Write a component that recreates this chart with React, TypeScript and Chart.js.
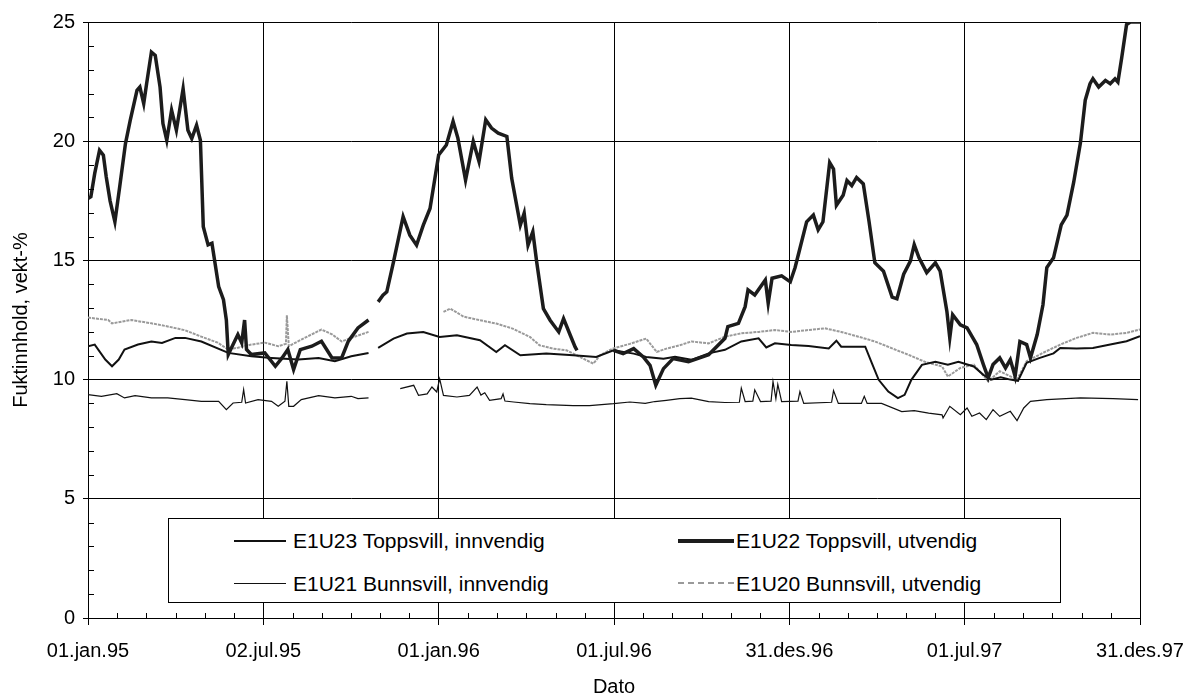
import React, { useEffect, useRef } from 'react';
import { Chart, registerables } from 'chart.js';

Chart.register(...registerables);

// ---- axis labels / ticks ----
const X_TICK_DAYS = [0, 182.5, 365, 547.5, 730, 912.5, 1095];
const X_TICK_LABELS = ['01.jan.95', '02.jul.95', '01.jan.96', '01.jul.96', '31.des.96', '01.jul.97', '31.des.97'];
const Y_MIN = 0;
const Y_MAX = 25;
const Y_STEP = 5;

// ---- series (x = days since 01.jan.95) ----
const E1U22_DAYS = [0, 3, 7, 12, 16, 19, 23, 28, 33, 39, 44, 51, 54, 58, 61, 66, 70, 75, 78, 82, 87, 92, 99, 104, 108, 113, 117, 120, 125, 129, 136, 141, 144, 146, 151, 156, 160, 163, 165, 170, 184, 195, 202, 208, 214, 221, 233, 243, 254, 264, 271, 281, 292, 297, 302, 307, 311, 318, 328, 335, 342, 349, 356, 365, 373, 380, 385, 393, 401, 407, 414, 420, 427, 436, 441, 450, 454, 458, 463, 467, 474, 481, 490, 495, 502, 507, 509, 528, 547, 557, 568, 578, 585, 591, 599, 609, 625, 646, 663, 666, 677, 684, 687, 694, 705, 708, 712, 722, 731, 736, 741, 748, 755, 760, 765, 772, 776, 779, 786, 790, 795, 800, 807, 813, 819, 828, 837, 842, 849, 856, 860, 865, 873, 882, 887, 894, 897, 900, 908, 915, 921, 925, 932, 937, 942, 949, 955, 960, 965, 970, 977, 981, 988, 994, 998, 1005, 1013, 1019, 1026, 1033, 1038, 1043, 1046, 1052, 1059, 1064, 1069, 1072, 1076, 1081, 1085, 1095];
const E1U22_VALUES = [17.6, 17.67, 18.65, 19.62, 19.41, 18.5, 17.5, 16.62, 18.09, 19.9, 20.88, 22.13, 22.27, 21.58, 22.41, 23.74, 23.6, 22.27, 20.74, 20.04, 21.3, 20.46, 22.2, 20.46, 20.11, 20.67, 20.04, 16.41, 15.65, 15.72, 13.9, 13.35, 12.5, 11.05, 11.47, 11.89, 11.54, 12.5, 11.26, 11.05, 11.12, 10.56, 10.91, 11.26, 10.42, 11.26, 11.4, 11.61, 10.91, 10.91, 11.61, 12.17, 12.5, null, 13.26, 13.54, 13.68, 14.94, 16.84, 16.06, 15.64, 16.48, 17.18, 19.42, 19.84, 20.83, 20.13, 18.37, 19.99, 19.15, 20.9, 20.55, 20.34, 20.2, 18.45, 16.48, 16.98, 15.64, 16.2, 14.94, 12.98, 12.49, 12.0, 12.56, 11.86, 11.37, 11.23, null, 11.23, 11.09, 11.3, 10.95, 10.6, 9.76, 10.46, 10.88, 10.75, 11.04, 11.73, 12.22, 12.36, 13.06, 13.76, 13.55, 14.18, 13.2, 14.25, 14.35, 14.1, 14.7, 15.5, 16.62, 16.9, 16.28, 16.62, 19.1, 18.83, 17.31, 17.73, 18.35, 18.14, 18.48, 18.21, 16.62, 14.9, 14.55, 13.46, 13.39, 14.42, 14.97, 15.66, 15.11, 14.49, 14.9, 14.55, 12.86, 11.75, 12.72, 12.3, 12.17, 11.75, 11.47, 10.63, 10.07, 10.63, 10.91, 10.49, 10.84, 10.14, 11.6, 11.47, 10.91, 11.89, 13.14, 14.7, 15.11, 16.49, 16.9, 18.28, 19.93, 21.72, 22.41, 22.62, 22.27, 22.55, 22.41, 22.62, 22.48, 23.51, 24.89, 25.0, 25.0];

const E1U23_DAYS = [0, 7, 18, 25, 32, 38, 52, 66, 77, 91, 101, 118, 146, 170, 191, 219, 240, 257, 274, 292, 297, 302, 318, 332, 349, 366, 384, 408, 425, 434, 450, 477, 505, 529, 547, 568, 581, 599, 611, 628, 646, 663, 680, 698, 706, 715, 732, 750, 771, 779, 784, 809, 816, 823, 833, 843, 850, 857, 868, 882, 895, 906, 922, 932, 940, 950, 960, 968, 977, 990, 1005, 1012, 1029, 1046, 1064, 1081, 1095];
const E1U23_VALUES = [11.4, 11.47, 10.84, 10.56, 10.84, 11.26, 11.47, 11.6, 11.54, 11.75, 11.75, 11.6, 11.12, 10.98, 10.91, 10.84, 10.91, 10.77, 10.98, 11.12, null, 11.33, 11.72, 11.93, 12.0, 11.79, 11.86, 11.65, 11.16, 11.44, 11.02, 11.09, 11.02, 10.95, 11.23, 11.09, 10.95, 10.88, 10.96, 10.83, 11.1, 11.25, 11.6, 11.73, 11.35, 11.52, 11.45, 11.41, 11.31, 11.63, 11.38, 11.38, 10.68, 9.99, 9.5, 9.22, 9.36, 9.99, 10.62, 10.75, 10.62, 10.75, 10.55, 10.2, 10.0, 10.1, 10.0, 9.95, 10.7, 10.9, 11.1, 11.33, 11.3, 11.33, 11.47, 11.61, 11.82];

const E1U21_DAYS = [0, 14, 30, 38, 49, 66, 83, 101, 118, 136, 144, 151, 160, 162, 164, 177, 191, 198, 205, 207, 209, 214, 222, 240, 257, 274, 281, 292, 308, 325, 339, 344, 353, 358, 363, 366, 370, 384, 397, 405, 409, 413, 418, 430, 432, 434, 443, 460, 477, 505, 522, 547, 564, 580, 590, 602, 616, 628, 646, 663, 678, 680, 684, 692, 694, 700, 711, 713, 716, 718, 722, 739, 741, 745, 774, 776, 781, 805, 808, 811, 826, 847, 860, 875, 889, 890, 897, 908, 915, 920, 928, 935, 942, 949, 960, 967, 974, 981, 998, 1033, 1067, 1093];
const E1U21_VALUES = [9.37, 9.3, 9.41, 9.23, 9.33, 9.23, 9.23, 9.16, 9.09, 9.09, 8.74, 9.02, 9.05, 9.58, 9.02, 9.16, 9.09, 8.88, 9.09, 9.93, 8.88, 8.88, 9.16, 9.33, 9.23, 9.3, 9.2, 9.23, null, 9.62, 9.76, 9.34, 9.4, 9.69, 9.48, 10.04, 9.34, 9.27, 9.34, 9.69, 9.35, 9.45, 9.13, 9.2, 9.4, 9.1, 9.06, 8.99, 8.95, 8.91, 8.91, 8.99, 9.06, 9.0, 9.08, 9.13, 9.2, 9.22, 9.08, 9.04, 9.05, 9.64, 9.08, 9.1, 9.57, 9.08, 9.1, 9.92, 9.2, 9.8, 9.08, 9.1, 9.5, 9.0, 9.05, 9.54, 9.0, 9.0, 9.3, 9.0, 9.0, 8.66, 8.7, 8.59, 8.52, 8.39, 8.88, 8.53, 8.81, 8.46, 8.6, 8.32, 8.74, 8.46, 8.67, 8.28, 8.81, 9.09, 9.16, 9.23, 9.2, 9.16];

const E1U20_DAYS = [0, 21, 25, 45, 66, 83, 101, 118, 135, 146, 156, 170, 184, 198, 206, 207, 209, 222, 243, 254, 264, 274, 292, 330, 370, 377, 391, 408, 425, 442, 460, 470, 484, 498, 512, 526, 533, 546, 564, 581, 592, 602, 616, 628, 646, 663, 680, 698, 715, 732, 750, 767, 784, 802, 819, 837, 854, 871, 889, 895, 908, 922, 937, 949, 967, 977, 994, 1012, 1029, 1046, 1064, 1081, 1095];
const E1U20_VALUES = [12.6, 12.5, 12.36, 12.5, 12.36, 12.23, 12.07, 11.8, 11.55, 11.26, 11.34, 11.47, 11.55, 11.4, 11.5, 12.7, 11.4, 11.68, 12.1, 11.9, 11.6, 11.75, 12.0, null, 12.84, 12.98, 12.64, 12.49, 12.35, 12.14, 11.79, 11.44, 11.3, 11.23, 10.95, 10.67, 11.02, 11.3, 11.5, 11.72, 11.16, 11.3, 11.44, 11.6, 11.52, 11.8, 11.94, 12.0, 12.08, 12.0, 12.08, 12.15, 12.0, 11.8, 11.6, 11.31, 11.04, 10.75, 10.55, 10.13, 10.49, 10.63, 9.93, 10.35, 10.0, 10.77, 11.12, 11.47, 11.75, 11.96, 11.89, 11.96, 12.1];

const SERIES_LABELS = [
  'E1U23 Toppsvill, innvendig',
  'E1U22 Toppsvill, utvendig',
  'E1U21 Bunnsvill, innvendig',
  'E1U20 Bunnsvill, utvendig',
];

const FONT = "'Liberation Sans', Arial, Helvetica, sans-serif";

function toPoints(days: number[], vals: (number | null)[]) {
  return days.map((d, i) => ({ x: d, y: vals[i] }));
}

const minorTicks = {
  id: 'minorTicks',
  afterDraw(chart: any) {
    const { ctx, chartArea, scales } = chart;
    const x = scales.x;
    const y = scales.y;
    ctx.save();
    ctx.strokeStyle = '#000';
    ctx.lineWidth = 1;
    ctx.beginPath();
    const step = (X_TICK_DAYS[1] - X_TICK_DAYS[0]) / 6;
    for (let k = 1; k < 36; k++) {
      if (k % 6 === 0) continue;
      const px = Math.round(x.getPixelForValue(k * step)) + 0.5;
      ctx.moveTo(px, chartArea.bottom);
      ctx.lineTo(px, chartArea.bottom - 5);
    }
    for (let v = Y_MIN + 1; v < Y_MAX; v++) {
      if (v % Y_STEP === 0) continue;
      const py = Math.round(y.getPixelForValue(v)) + 0.5;
      ctx.moveTo(chartArea.left, py);
      ctx.lineTo(chartArea.left + 6, py);
    }
    ctx.stroke();
    ctx.restore();
  },
};

export default function App() {
  const ref = useRef<HTMLCanvasElement | null>(null);

  useEffect(() => {
    if (!ref.current) return;
    const chart = new Chart(ref.current, {
      type: 'line',
      data: {
        datasets: [
          {
            label: SERIES_LABELS[1],
            data: toPoints(E1U22_DAYS, E1U22_VALUES),
            borderColor: '#1c1c1c',
            borderWidth: 3.5,
            pointRadius: 0,
            tension: 0,
            spanGaps: false,
          },
          {
            label: SERIES_LABELS[0],
            data: toPoints(E1U23_DAYS, E1U23_VALUES),
            borderColor: '#111',
            borderWidth: 2,
            pointRadius: 0,
            tension: 0,
            spanGaps: false,
          },
          {
            label: SERIES_LABELS[3],
            data: toPoints(E1U20_DAYS, E1U20_VALUES),
            borderColor: '#9a9a9a',
            borderWidth: 2,
            borderDash: [3, 1],
            pointRadius: 0,
            tension: 0,
            spanGaps: false,
          },
          {
            label: SERIES_LABELS[2],
            data: toPoints(E1U21_DAYS, E1U21_VALUES),
            borderColor: '#111',
            borderWidth: 1.2,
            pointRadius: 0,
            tension: 0,
            spanGaps: false,
          },
        ],
      },
      options: {
        animation: false,
        responsive: false,
        layout: { padding: { left: 0, right: 46, top: 22, bottom: 0 } },
        plugins: { legend: { display: false }, tooltip: { enabled: false } },
        scales: {
          x: {
            type: 'linear',
            min: X_TICK_DAYS[0],
            max: X_TICK_DAYS[X_TICK_DAYS.length - 1],
            afterBuildTicks: (scale: any) => {
              scale.ticks = X_TICK_DAYS.map((v) => ({ value: v }));
            },
            afterFit: (scale: any) => {
              scale.height = 79;
              scale.paddingLeft = 0;
              scale.paddingRight = 0;
            },
            grid: { color: '#000', lineWidth: 1, tickLength: 7, drawTicks: true },
            border: { color: '#000', width: 1 },
            ticks: {
              autoSkip: false,
              maxRotation: 0,
              padding: 14,
              color: '#000',
              font: { family: FONT, size: 20 },
              callback: (_v: any, i: number) => X_TICK_LABELS[i],
            },
            title: {
              display: true,
              text: 'Dato',
              color: '#000',
              font: { family: FONT, size: 20 },
              padding: { top: 0, bottom: -2 },
            },
          },
          y: {
            min: Y_MIN,
            max: Y_MAX,
            ticks: {
              stepSize: Y_STEP,
              padding: 8,
              color: '#000',
              font: { family: FONT, size: 20 },
            },
            afterFit: (scale: any) => {
              scale.width = 88;
              scale.paddingTop = 0;
              scale.paddingBottom = 0;
            },
            grid: { color: '#000', lineWidth: 1, tickLength: 5, drawTicks: true },
            border: { color: '#000', width: 1 },
            title: {
              display: true,
              text: 'Fuktinnhold, vekt-%',
              color: '#000',
              font: { family: FONT, size: 20 },
              padding: { top: 9, bottom: 0 },
            },
          },
        },
      },
      plugins: [minorTicks],
    } as any);
    return () => chart.destroy();
  }, []);

  const legendText: React.CSSProperties = {
    position: 'absolute',
    fontFamily: FONT,
    fontSize: 21,
    color: '#000',
    whiteSpace: 'nowrap',
    lineHeight: '22px',
  };

  return (
    <div style={{ position: 'fixed', left: 0, top: 0, width: 1186, height: 697, background: '#fff' }}>
      <canvas ref={ref} width={1186} height={697} style={{ display: 'block' }} />
      <div
        style={{
          position: 'absolute',
          left: 168,
          top: 518,
          width: 891,
          height: 83,
          border: '1px solid #000',
          background: '#fff',
        }}
      >
        <div style={{ position: 'absolute', left: 65, top: 21, width: 52, borderTop: '2px solid #111' }} />
        <div style={{ ...legendText, left: 124, top: 11 }}>{SERIES_LABELS[0]}</div>
        <div style={{ position: 'absolute', left: 509, top: 20, width: 56, borderTop: '4px solid #1c1c1c' }} />
        <div style={{ ...legendText, left: 567, top: 11 }}>{SERIES_LABELS[1]}</div>
        <div style={{ position: 'absolute', left: 65, top: 64, width: 52, borderTop: '1px solid #111' }} />
        <div style={{ ...legendText, left: 124, top: 54 }}>{SERIES_LABELS[2]}</div>
        <div style={{ position: 'absolute', left: 509, top: 63, width: 56, borderTop: '2px dashed #9a9a9a' }} />
        <div style={{ ...legendText, left: 567, top: 54 }}>{SERIES_LABELS[3]}</div>
      </div>
    </div>
  );
}
